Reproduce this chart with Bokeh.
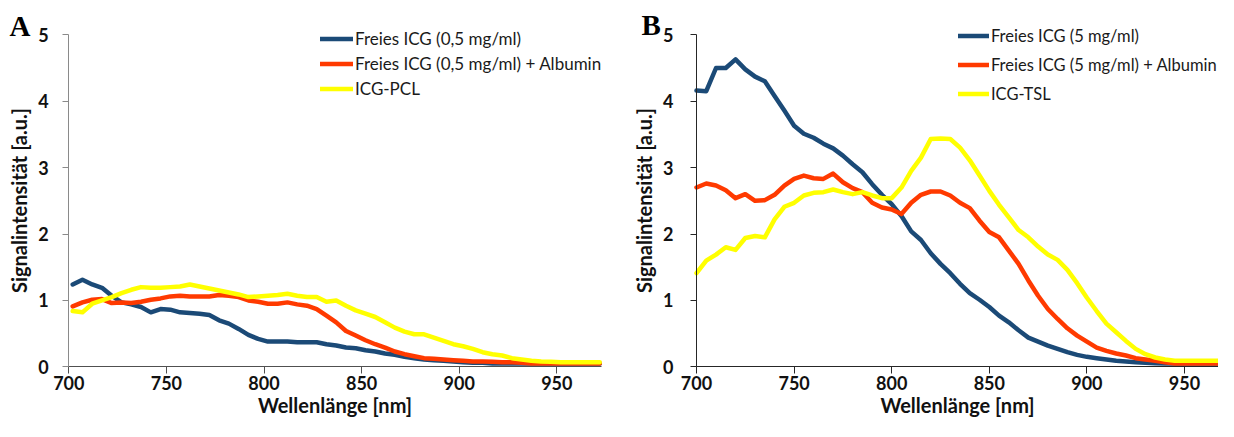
from bokeh.plotting import figure
from bokeh.models import Legend, LegendItem, Label, FixedTicker, Range1d
from bokeh.layouts import row
from bokeh.embed import file_html
from bokeh.resources import INLINE

# ---------------- data ----------------
wl_a = list(range(702, 973, 5))   # wavelengths panel A [nm]
wl_b = list(range(700, 971, 5))   # wavelengths panel B [nm]

a_free = [1.24, 1.31, 1.24, 1.19, 1.07, 0.97, 0.94, 0.90, 0.82, 0.87,
          0.86, 0.82, 0.81, 0.80, 0.78, 0.70, 0.65, 0.57, 0.48, 0.42,
          0.38, 0.38, 0.38, 0.37, 0.37, 0.37, 0.34, 0.32, 0.29, 0.28,
          0.25, 0.23, 0.20, 0.18, 0.15, 0.13, 0.11, 0.10, 0.09, 0.08,
          0.07, 0.06, 0.06, 0.05, 0.05, 0.05, 0.05, 0.05, 0.05, 0.05,
          0.05, 0.05, 0.05, 0.05, 0.05]
a_alb = [0.91, 0.97, 1.01, 1.02, 0.96, 0.97, 0.96, 0.98, 1.01, 1.03,
         1.06, 1.07, 1.06, 1.06, 1.06, 1.08, 1.07, 1.05, 1.00, 0.98,
         0.95, 0.95, 0.97, 0.94, 0.92, 0.87, 0.77, 0.67, 0.54, 0.47,
         0.40, 0.34, 0.29, 0.23, 0.19, 0.16, 0.13, 0.12, 0.11, 0.10,
         0.09, 0.08, 0.08, 0.075, 0.07, 0.07, 0.06, 0.05, 0.05, 0.05,
         0.05, 0.05, 0.05, 0.05, 0.05]
a_pcl = [0.84, 0.82, 0.95, 1.00, 1.05, 1.11, 1.16, 1.20, 1.19, 1.19,
         1.20, 1.21, 1.24, 1.21, 1.18, 1.15, 1.12, 1.09, 1.05, 1.06,
         1.07, 1.08, 1.10, 1.07, 1.05, 1.05, 0.98, 1.00, 0.92, 0.85,
         0.80, 0.75, 0.67, 0.59, 0.53, 0.49, 0.49, 0.44, 0.39, 0.34,
         0.31, 0.27, 0.22, 0.19, 0.17, 0.13, 0.11, 0.09, 0.08, 0.075,
         0.07, 0.07, 0.07, 0.07, 0.07]

b_free = [4.16, 4.15, 4.50, 4.50, 4.63, 4.48, 4.37, 4.30, 4.08, 3.86,
          3.63, 3.51, 3.45, 3.36, 3.29, 3.18, 3.05, 2.93, 2.75, 2.59,
          2.45, 2.27, 2.04, 1.91, 1.71, 1.55, 1.41, 1.25, 1.11, 1.01,
          0.90, 0.77, 0.67, 0.55, 0.44, 0.38, 0.32, 0.27, 0.22, 0.18,
          0.15, 0.13, 0.11, 0.09, 0.08, 0.07, 0.06, 0.055, 0.05, 0.05,
          0.05, 0.05, 0.05, 0.05, 0.05]
b_alb = [2.70, 2.76, 2.73, 2.66, 2.54, 2.60, 2.50, 2.51, 2.59, 2.73,
         2.83, 2.88, 2.84, 2.83, 2.91, 2.78, 2.69, 2.63, 2.47, 2.40,
         2.37, 2.30, 2.47, 2.59, 2.64, 2.64, 2.58, 2.47, 2.39, 2.20,
         2.03, 1.95, 1.75, 1.55, 1.30, 1.07, 0.87, 0.72, 0.58, 0.47,
         0.38, 0.29, 0.24, 0.20, 0.17, 0.13, 0.11, 0.09, 0.07, 0.05,
         0.05, 0.05, 0.05, 0.05, 0.05]
b_tsl = [1.41, 1.60, 1.69, 1.80, 1.76, 1.94, 1.97, 1.95, 2.22, 2.41,
         2.47, 2.58, 2.62, 2.63, 2.67, 2.63, 2.60, 2.63, 2.58, 2.54,
         2.54, 2.70, 2.95, 3.15, 3.43, 3.44, 3.43, 3.30, 3.11, 2.88,
         2.65, 2.44, 2.25, 2.06, 1.95, 1.81, 1.69, 1.61, 1.46, 1.26,
         1.04, 0.84, 0.65, 0.52, 0.39, 0.27, 0.19, 0.14, 0.11, 0.09,
         0.09, 0.09, 0.09, 0.09, 0.09]

labels_a = ["Freies ICG (0,5 mg/ml)", "Freies ICG (0,5 mg/ml) + Albumin", "ICG-PCL"]
labels_b = ["Freies ICG (5 mg/ml)", "Freies ICG (5 mg/ml) + Albumin", "ICG-TSL"]
x_ticks = [700, 750, 800, 850, 900, 950]
y_ticks = [0, 1, 2, 3, 4, 5]

COLORS = ["#1B4A77", "#FF3A00", "#FFFF00"]
FONT = "Lato"
H = 421
PX_NM = 1.952      # pixels per nm
PX_UNIT = 66.4     # pixels per signal unit
Y0_TOP = 366.3     # pixel row (from figure top) of signal 0


def make_panel(letter, wl, series, labels, width, x700_px, x_end, yaxis_color, xaxis_color,
               y_standoff, legend_loc, row_h, legend_font, glyph_w, letter_xy):
    xs = 700 - x700_px / PX_NM
    ys = -(H - Y0_TOP) / PX_UNIT
    p = figure(width=width, height=H, output_backend="svg", toolbar_location=None,
               x_range=Range1d(xs, xs + width / PX_NM),
               y_range=Range1d(ys, ys + H / PX_UNIT),
               min_border=0)
    p.outline_line_color = None
    p.grid.visible = False

    renderers = []
    for yv, c in zip(series, COLORS):
        r = p.line(wl, yv, line_color=c, line_width=4.5, line_join="round", line_cap="round")
        renderers.append(r)

    p.xaxis.fixed_location = 0
    p.yaxis.fixed_location = 700
    p.xaxis.bounds = (700, x_end)
    p.yaxis.bounds = (0, 5)
    p.xaxis.ticker = FixedTicker(ticks=x_ticks)
    p.yaxis.ticker = FixedTicker(ticks=y_ticks)
    for ax in (p.xaxis[0], p.yaxis[0]):
        ax.major_tick_in = 0
        ax.minor_tick_line_color = None
        ax.major_label_text_font = FONT
        ax.major_label_text_font_style = "bold"
        ax.major_label_text_font_size = "18px"
        ax.major_label_text_color = "#111111"
        ax.axis_label_text_font = FONT
        ax.axis_label_text_font_style = "bold"
        ax.axis_label_text_color = "#111111"
        ax.axis_label_text_font_size = "20px"
    p.xaxis.major_tick_out = 7
    p.yaxis.major_tick_out = 6
    p.xaxis.axis_line_color = xaxis_color
    p.xaxis.major_tick_line_color = xaxis_color
    p.yaxis.axis_line_color = yaxis_color
    p.yaxis.major_tick_line_color = yaxis_color
    p.xaxis.major_label_standoff = 2
    p.yaxis.major_label_standoff = y_standoff
    p.xaxis.axis_label = "Wellenlänge [nm]"
    p.yaxis.axis_label = "Signalintensität [a.u.]"
    p.xaxis.axis_label_standoff = 0
    p.yaxis.axis_label_standoff = 4

    legend = Legend(items=[LegendItem(label=l, renderers=[r]) for l, r in zip(labels, renderers)],
                    location=legend_loc, orientation="vertical",
                    label_text_font=FONT, label_text_font_size=legend_font, label_text_color="#1a1a1a",
                    glyph_width=glyph_w, glyph_height=int(row_h), label_height=int(row_h),
                    spacing=0, padding=0, margin=0, label_standoff=2,
                    border_line_color=None, background_fill_alpha=0)
    p.add_layout(legend)

    p.add_layout(Label(x=letter_xy[0], y=letter_xy[1], x_units="screen", y_units="screen",
                       text=letter, text_font="Liberation Serif", text_font_style="bold",
                       text_font_size="29px", text_baseline="middle", text_color="#000000"))
    return p


WA, WB = 606, 612
pa = make_panel("A", wl_a, [a_free, a_alb, a_pcl], labels_a, WA, 68.3, 973,
                "#8a8a8a", "#505050", 14, (320, 320), 25, "17px", 33, (9, H - 25))
pb = make_panel("B", wl_b, [b_free, b_alb, b_tsl], labels_b, WB, 696 - WA, 973,
                "#262626", "#262626", 17, (352, 313), 29, "16.5px", 31, (696 - WA - 55, H - 24))

layout = row(pa, pb)
open("out.html", "w").write(file_html(layout, INLINE))
